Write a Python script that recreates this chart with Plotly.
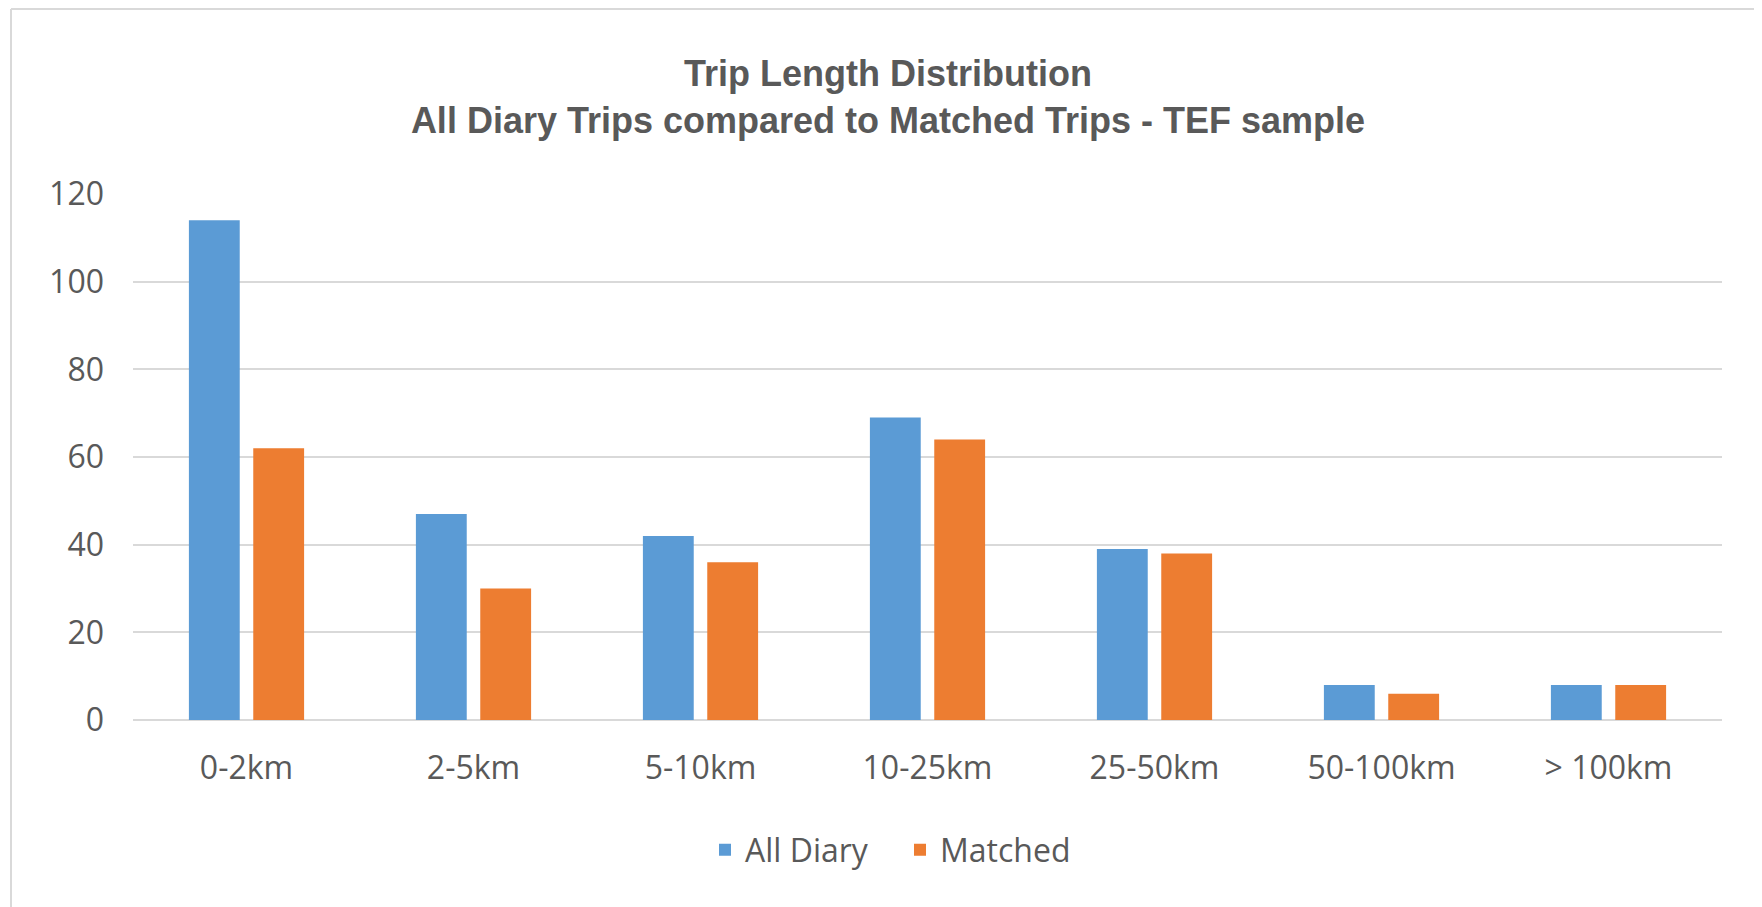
import plotly.graph_objects as go

categories = ["0-2km", "2-5km", "5-10km", "10-25km", "25-50km", "50-100km", "> 100km"]
all_diary = [114, 47, 42, 69, 39, 8, 8]
matched = [62, 30, 36, 64, 38, 6, 8]
y_ticks = [0, 20, 40, 60, 80, 100, 120]

W, H = 1762, 907
ML, MR, MT, MB = 125, 48, 186, 195
PW, PH = W - ML - MR, H - MT - MB

def px_x(x):
    return (x - ML) / PW

def px_y(y):
    return (H - MB - y) / PH

TEXT = "#595959"
GRID = "#D9D9D9"

fig = go.Figure()
fig.add_trace(go.Bar(x=categories, y=all_diary, name="All Diary", marker=dict(color="#5B9BD5", line=dict(width=0))))
fig.add_trace(go.Bar(x=categories, y=matched, name="Matched", marker=dict(color="#ED7D31", line=dict(width=0))))

fig.update_layout(
    width=W, height=H,
    margin=dict(l=ML, r=MR, t=MT, b=MB, autoexpand=False),
    paper_bgcolor="white", plot_bgcolor="white",
    barmode="group", bargap=0.433, bargroupgap=0.21,
    font=dict(family="Open Sans, sans-serif", color=TEXT, size=32),
    title=dict(
        text="Trip Length Distribution<br>All Diary Trips compared to Matched Trips - TEF sample",
        x=880 / W, xanchor="center", xref="container",
        y=1 - 78 / H, yanchor="top", yref="container",
        font=dict(family="Liberation Sans, Arial, sans-serif", size=36, color=TEXT, weight="bold"),
    ),
    xaxis=dict(showgrid=False, showline=False, zeroline=False, ticks="",
               tickfont=dict(size=32, color=TEXT), ticklabelstandoff=26),
    yaxis=dict(range=[0, 120], tickvals=y_ticks, showgrid=True, gridcolor=GRID, gridwidth=2,
               zeroline=True, zerolinecolor=GRID, zerolinewidth=2, showline=False, ticks="",
               tickfont=dict(size=32, color=TEXT), ticklabelstandoff=28),
    legend=dict(orientation="h", x=px_x(892), xanchor="center", y=px_y(842), yanchor="middle",
                font=dict(size=32, color=TEXT), traceorder="normal", entrywidth=150),
    shapes=[
        dict(type="line", xref="paper", yref="paper", x0=px_x(3), x1=px_x(W + 20), y0=px_y(1), y1=px_y(1),
             line=dict(color=GRID, width=2)),
        dict(type="line", xref="paper", yref="paper", x0=px_x(3), x1=px_x(3), y0=px_y(1), y1=px_y(H + 20),
             line=dict(color=GRID, width=2)),
    ],
)

fig.write_html("out.html")
